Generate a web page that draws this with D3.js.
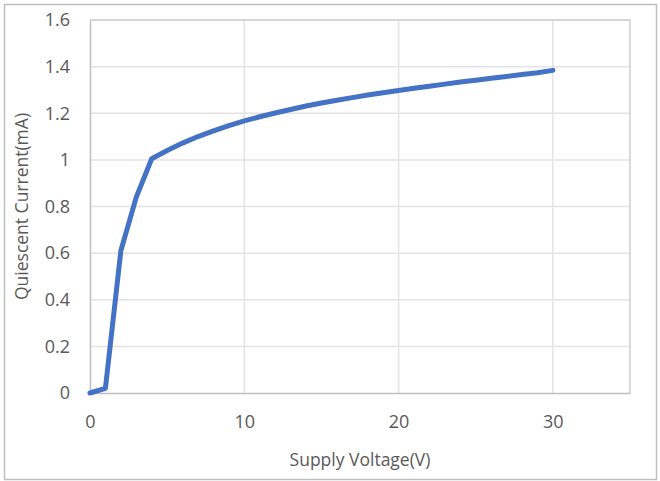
<!DOCTYPE html>
<html>
<head>
<meta charset="utf-8">
<script src="https://cdn.jsdelivr.net/npm/d3@7"></script>
<style>
  body { margin: 0; background: #fff; }
  svg text { font-family: "Open Sans", "Noto Sans", sans-serif; fill: #595959; }
</style>
</head>
<body>
<div id="chart"></div>
<script>
// supply voltage (V) and quiescent current (mA)
var voltage = [0, 1, 2, 3, 4, 5, 6, 7, 8, 9, 10, 11, 12, 13, 14, 15, 16, 17, 18, 19, 20,
               21, 22, 23, 24, 25, 26, 27, 28, 29, 30];
var current = [0, 0.02, 0.61, 0.84, 1.005, 1.04, 1.072, 1.10, 1.124, 1.147, 1.167, 1.185,
               1.201, 1.216, 1.231, 1.244, 1.256, 1.267, 1.278, 1.288, 1.298, 1.307,
               1.316, 1.325, 1.334, 1.342, 1.350, 1.358, 1.366, 1.374, 1.384];
var xTicks = [0, 10, 20, 30];
var yTicks = [0, 0.2, 0.4, 0.6, 0.8, 1, 1.2, 1.4, 1.6];

var W = 660, H = 481;
var margin = {top: 20, right: 30, bottom: 88, left: 90};
var width = W - margin.left - margin.right;
var height = H - margin.top - margin.bottom;

var data = voltage.map((v, i) => [v, current[i]]);

var x = d3.scaleLinear().domain([0, 35]).range([0, width]);
var y = d3.scaleLinear().domain([0, 1.6]).range([height, 0]);

var svg = d3.select('#chart').append('svg')
    .attr('width', W)
    .attr('height', H);

// outer chart border
svg.append('rect')
    .attr('x', 4.5).attr('y', 4.5)
    .attr('width', W - 8).attr('height', H - 6)
    .attr('fill', 'none')
    .attr('stroke', '#bfbfbf')
    .attr('stroke-width', 1.5);

var g = svg.append('g')
    .attr('transform', 'translate(' + margin.left + ',' + margin.top + ')');

// gridlines
g.selectAll('.hgrid')
    .data(yTicks.slice(1))
    .enter().append('line')
    .attr('x1', 0).attr('x2', width)
    .attr('y1', d => y(d)).attr('y2', d => y(d))
    .attr('stroke', '#e3e3e3').attr('stroke-width', 1.5);

g.selectAll('.vgrid')
    .data(xTicks.slice(1))
    .enter().append('line')
    .attr('x1', d => x(d)).attr('x2', d => x(d))
    .attr('y1', 0).attr('y2', height)
    .attr('stroke', '#e3e3e3').attr('stroke-width', 1.5);

// plot area border (top/right)
g.append('path')
    .attr('d', 'M0,0H' + width + 'V' + height)
    .attr('fill', 'none')
    .attr('stroke', '#d0d0d0')
    .attr('stroke-width', 1.5);

// x axis
var xAxis = d3.axisBottom(x).tickValues(xTicks).tickSize(0).tickPadding(22);
var xg = g.append('g')
    .attr('transform', 'translate(0,' + height + ')')
    .call(xAxis);
xg.select('.domain').attr('stroke', '#bfbfbf').attr('stroke-width', 1.5);
xg.selectAll('text').style('font-size', '18px').attr('fill', '#595959');

// y axis
var yAxis = d3.axisLeft(y).tickValues(yTicks).tickSize(0).tickPadding(20)
    .tickFormat(d3.format('~g'));
var yg = g.append('g').call(yAxis);
yg.select('.domain').attr('stroke', '#bfbfbf').attr('stroke-width', 1.5);
yg.selectAll('text').style('font-size', '18px').attr('fill', '#595959');

// axis titles
g.append('text')
    .attr('text-anchor', 'middle')
    .attr('x', width / 2)
    .attr('y', height + 73)
    .style('font-size', '17.5px')
    .text('Supply Voltage(V)');

g.append('text')
    .attr('text-anchor', 'middle')
    .attr('transform', 'rotate(-90)')
    .attr('x', -height / 2)
    .attr('y', -62)
    .style('font-size', '17.5px')
    .text('Quiescent Current(mA)');

// the curve
var line = d3.line()
    .x(d => x(d[0]))
    .y(d => y(d[1]));

g.append('path')
    .datum(data)
    .attr('d', line)
    .attr('fill', 'none')
    .attr('stroke', '#4472C4')
    .attr('stroke-width', 5)
    .attr('stroke-linecap', 'round')
    .attr('stroke-linejoin', 'round');
</script>
</body>
</html>
